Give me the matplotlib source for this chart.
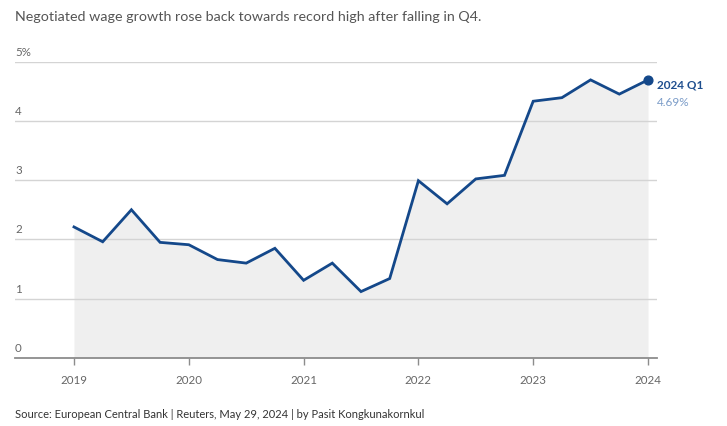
import matplotlib
matplotlib.use("Agg")
import matplotlib.pyplot as plt
import matplotlib.transforms as mtrans

quarters = [2019.0, 2019.25, 2019.5, 2019.75,
            2020.0, 2020.25, 2020.5, 2020.75,
            2021.0, 2021.25, 2021.5, 2021.75,
            2022.0, 2022.25, 2022.5, 2022.75,
            2023.0, 2023.25, 2023.5, 2023.75,
            2024.0]
wage_growth = [2.21, 1.96, 2.50, 1.95,
               1.91, 1.66, 1.60, 1.85,
               1.31, 1.60, 1.12, 1.34,
               2.99, 2.60, 3.02, 3.08,
               4.33, 4.39, 4.69, 4.45,
               4.69]
y_ticks = [0, 1, 2, 3, 4, 5]
y_labels = ["0", "1", "2", "3", "4", "5%"]
x_years = [2019, 2020, 2021, 2022, 2023, 2024]

plt.rcParams['font.family'] = ['Lato', 'DejaVu Sans']

W, H = 727, 426
fig = plt.figure(figsize=(W / 100, H / 100), dpi=100)
left, right = 15 / W, 657 / W
bottom, top = (H - 358) / H, (H - 61.5) / H
ax = fig.add_axes([left, bottom, right - left, top - bottom])

ax.set_xlim(2019 - 59 / 114.8, 2024 + 9 / 114.8)
ax.set_ylim(0, 5)

line_color = "#14488a"
ax.fill_between(quarters, wage_growth, 0, color="#efefef", lw=0, zorder=1)
for t in y_ticks[1:]:
    ax.axhline(t, color="#d4d4d4", lw=1.0, zorder=2)
ax.axhline(0, color="#8c8c8c", lw=1.3, zorder=3, clip_on=False)
ax.plot(quarters, wage_growth, color=line_color, lw=2.0, zorder=4,
        solid_joinstyle="miter")
ax.plot([quarters[-1]], [wage_growth[-1]], "o", color=line_color, ms=6.3,
        zorder=5, clip_on=False)

for sp in ax.spines.values():
    sp.set_visible(False)
ax.set_yticks([])
ax.set_xticks(x_years)
ax.set_xticklabels([str(y) for y in x_years])
ax.tick_params(axis="x", length=5, width=1, color="#8c8c8c", pad=7,
               labelsize=8.3, labelcolor="#666666")

shift = mtrans.ScaledTranslation(0, 4 / 100, fig.dpi_scale_trans)
for t, lab in zip(y_ticks, y_labels):
    ax.text(0, t, lab, transform=ax.get_yaxis_transform() + shift,
            ha="left", va="bottom", fontsize=8.3, color="#666666")

ax.annotate("2024 Q1", xy=(quarters[-1], wage_growth[-1]), xytext=(9, -5),
            textcoords="offset pixels", ha="left", va="center",
            fontsize=8.5, fontweight="bold", color="#1f4f8f",
            annotation_clip=False)
ax.annotate(f"{wage_growth[-1]:.2f}%", xy=(quarters[-1], wage_growth[-1]),
            xytext=(9, -23), textcoords="offset pixels", ha="left", va="center",
            fontsize=8.5, color="#7b9cc8", annotation_clip=False)

fig.text(15 / W, 1 - 17 / H,
         "Negotiated wage growth rose back towards record high after falling in Q4.",
         ha="left", va="center", fontsize=10.3, color="#555555")
fig.text(15 / W, 1 - 414 / H,
         "Source: European Central Bank | Reuters, May 29, 2024 | by Pasit Kongkunakornkul",
         ha="left", va="center", fontsize=8.0, color="#333333")

fig.savefig("out.png", dpi=100)
